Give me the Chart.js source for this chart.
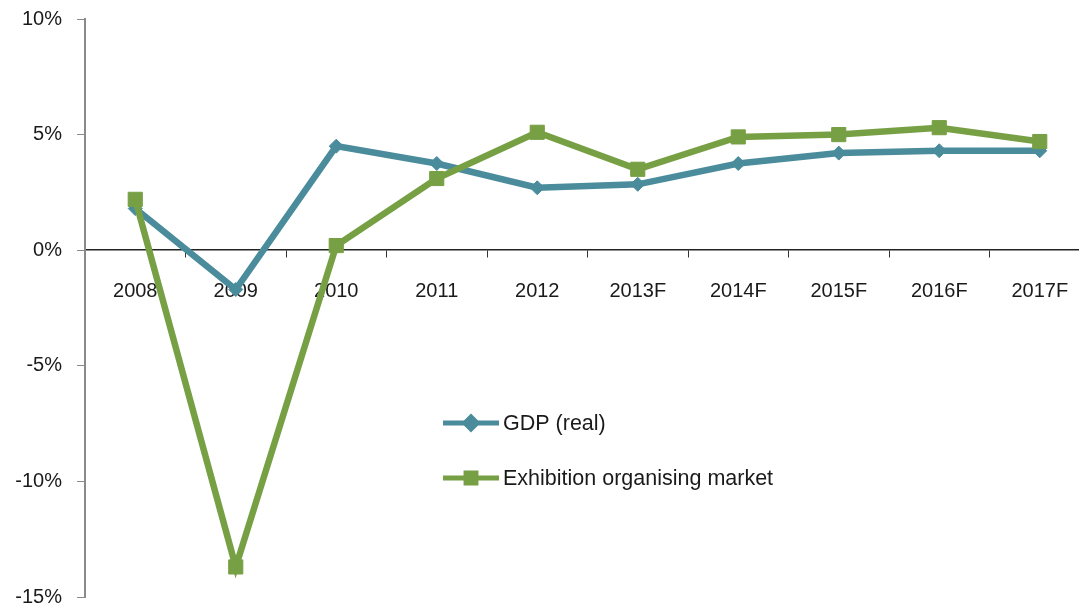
<!DOCTYPE html>
<html>
<head>
<meta charset="utf-8">
<script src="https://cdn.jsdelivr.net/npm/chart.js@4/dist/chart.umd.min.js"></script>
<style>
  html, body { margin: 0; padding: 0; background: #fff; overflow: hidden; }
  #growthChart { display: block; }
</style>
</head>
<body>
<!-- canvas is wider than the window so the plot runs past the right edge -->
<canvas id="growthChart" width="1101" height="608"></canvas>
<script>
const years = ['2008', '2009', '2010', '2011', '2012', '2013F', '2014F', '2015F', '2016F', '2017F'];
const gdpReal = [1.8, -1.7, 4.5, 3.75, 2.7, 2.85, 3.75, 4.2, 4.3, 4.3];
const exhibitionMarket = [2.2, -13.7, 0.2, 3.1, 5.1, 3.5, 4.9, 5.0, 5.3, 4.7];
const yTicks = [10, 5, 0, -5, -10, -15];

const tealColor = '#4a8c9b';
const greenColor = '#77a044';
const textColor = '#1a1a1a';
const fontFamily = '"Liberation Sans", Arial, sans-serif';

// line + marker legend entries drawn inside the plot
const lineLegend = {
    id: 'lineLegend',
    afterDraw(chart, args, opts) {
        const ctx = chart.ctx;
        const legendOrder = [0, 1];
        ctx.save();
        legendOrder.forEach((dsIndex, row) => {
            const ds = chart.data.datasets[dsIndex];
            const y = opts.top + row * opts.rowGap;
            ctx.strokeStyle = ds.borderColor;
            ctx.lineWidth = 5;
            ctx.beginPath();
            ctx.moveTo(opts.left, y);
            ctx.lineTo(opts.left + opts.lineLength, y);
            ctx.stroke();
            ctx.fillStyle = ds.pointBackgroundColor;
            ctx.strokeStyle = ds.pointBorderColor;
            Chart.helpers.drawPoint(ctx, {
                pointStyle: ds.pointStyle,
                radius: ds.pointStyle === 'rect' ? 7 : 6,
                rotation: 0,
                borderWidth: 1
            }, opts.left + opts.lineLength / 2, y);
            ctx.fillStyle = textColor;
            ctx.font = '21.5px ' + fontFamily;
            ctx.textAlign = 'left';
            ctx.textBaseline = 'middle';
            ctx.fillText(ds.label, opts.left + opts.lineLength + 4, y + 1);
        });
        ctx.restore();
    }
};

const ctx = document.getElementById('growthChart').getContext('2d');

new Chart(ctx, {
    type: 'line',
    data: {
        labels: years,
        datasets: [{
            label: 'GDP (real)',
            data: gdpReal,
            borderColor: tealColor,
            backgroundColor: tealColor,
            pointBackgroundColor: tealColor,
            pointBorderColor: tealColor,
            borderWidth: 6.5,
            pointStyle: 'rectRot',
            pointRadius: 7,
            pointBorderWidth: 1,
            tension: 0,
            order: 1
        }, {
            label: 'Exhibition organising market',
            data: exhibitionMarket,
            borderColor: greenColor,
            backgroundColor: greenColor,
            pointBackgroundColor: greenColor,
            pointBorderColor: greenColor,
            borderWidth: 6.5,
            pointStyle: 'rect',
            pointRadius: 10,
            pointBorderWidth: 1,
            tension: 0,
            order: 0
        }]
    },
    options: {
        responsive: false,
        animation: false,
        events: [],
        layout: { padding: { top: 19, bottom: 10, left: 0, right: 0 } },
        plugins: {
            legend: { display: false },
            tooltip: { enabled: false },
            lineLegend: { left: 443, top: 423, rowGap: 55, lineLength: 56 }
        },
        scales: {
            x: {
                type: 'category',
                position: { y: 0 },
                offset: true,
                grid: {
                    offset: true,
                    drawOnChartArea: false,
                    drawTicks: true,
                    tickLength: 7,
                    color: '#333',
                    lineWidth: 1
                },
                border: { display: true, color: '#222', width: 1.5 },
                ticks: {
                    color: textColor,
                    font: { family: fontFamily, size: 20 },
                    padding: 22,
                    maxRotation: 0,
                    autoSkip: false
                },
                afterFit(scale) {
                    scale.height = 0;
                    scale.paddingLeft = 0;
                    scale.paddingRight = 0;
                }
            },
            y: {
                min: -15,
                max: 10,
                afterBuildTicks(scale) {
                    scale.ticks = yTicks.map(v => ({ value: v }));
                },
                grid: {
                    drawOnChartArea: false,
                    drawTicks: true,
                    tickLength: 8,
                    color: '#8a8a8a',
                    lineWidth: 1
                },
                border: { display: true, color: '#8a8a8a', width: 2 },
                ticks: {
                    color: textColor,
                    font: { family: fontFamily, size: 20 },
                    padding: 15,
                    callback: v => v + '%'
                },
                afterFit(scale) {
                    scale.width = 85;
                    scale.paddingTop = 0;
                    scale.paddingBottom = 0;
                }
            }
        }
    },
    plugins: [lineLegend]
});
</script>
</body>
</html>
